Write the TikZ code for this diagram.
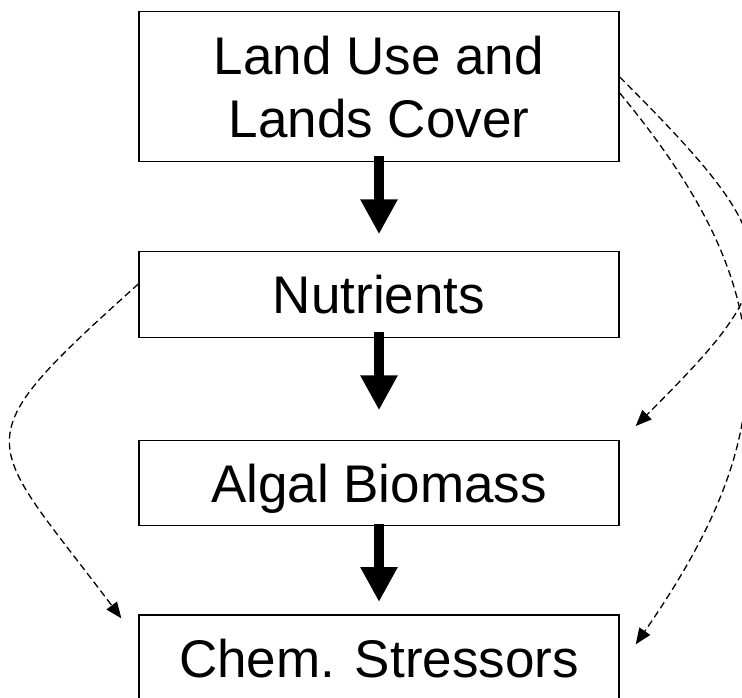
\documentclass[tikz,border=0pt]{standalone}
\usepackage{fontspec}
\setmainfont{Liberation Sans}
\usetikzlibrary{arrows.meta}

\begin{document}
\begin{tikzpicture}[x=1pt,y=-1pt,
    box/.style={draw,line width=1.4pt,minimum width=480pt,inner sep=0pt,
      align=center,text depth=0pt,font=\fontsize{53}{63}\selectfont},
    bigarrow/.style={line width=10pt,-{Triangle[length=35pt,width=35pt]}},
    link/.style={line width=1.3pt,dash pattern=on 7pt off 4pt,
      -{Triangle[length=16pt,width=13pt]}}]
    \useasboundingbox (0,0) rectangle (742,698);
    \clip (0,0) rectangle (742,698);

    \draw (379,86.7)  node[box,minimum height=150pt] (luse) {Land Use and\\Lands Cover};
    \draw (379,294.7) node[box,minimum height=86pt] (nut) {Nutrients};
    \draw (379,483.2) node[box,minimum height=85pt] (alg) {Algal Biomass};
    \draw (379,658)   node[box,minimum height=86pt] (chem) {Chem. Stressors};

    \draw[bigarrow,shorten <=-6pt,shorten >=16.7pt] (luse.south) -- (nut.north);
    \draw[bigarrow,shorten <=-6pt,shorten >=29.7pt] (nut.south) -- (alg.north);
    \draw[bigarrow,shorten <=-2pt,shorten >=12.3pt] (alg.south) -- (chem.north);

    \draw[link] ([yshift=10.7pt]nut.west) .. controls +(-180,162) and +(-138,-184)
      .. ([xshift=-17pt,yshift=-4pt]chem.north west);
    \draw[link] ([yshift=9.7pt]luse.east) .. controls +(174,174) and +(153,-153)
      .. ([xshift=16pt,yshift=14pt]alg.north east);
    \draw[link] ([yshift=-6.3pt]luse.east) .. controls +(166,200) and +(148,-213)
      .. ([xshift=16pt,yshift=-30pt]chem.north east);
\end{tikzpicture}
\end{document}
